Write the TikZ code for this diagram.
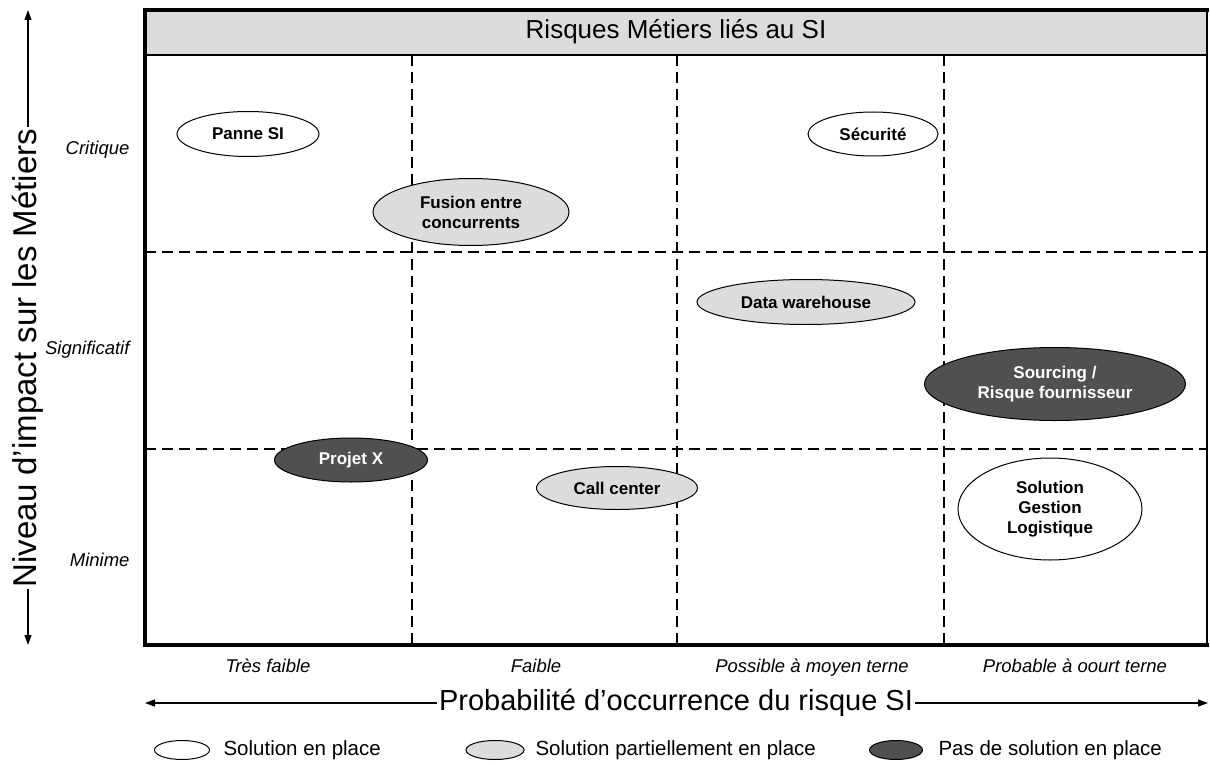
\documentclass[tikz,border=0pt]{standalone}
\usepackage{fontspec}
\setmainfont{Liberation Sans}
\usetikzlibrary{shapes.geometric,arrows.meta}
\definecolor{lightg}{HTML}{DCDCDC}
\definecolor{darkg}{HTML}{505050}
\begin{document}
\begin{tikzpicture}[x=1pt,y=-1pt,
  risk/.style={ellipse, draw=black, line width=1pt, inner sep=0pt, align=center,
     font=\fontsize{17}{20}\selectfont\bfseries},
  sol/.style={risk, fill=white},
  part/.style={risk, fill=lightg},
  none/.style={risk, fill=darkg, text=white},
  griddash/.style={line width=2pt, dash pattern=on 11pt off 6pt},
  rowlab/.style={anchor=east, font=\fontsize{18.5}{22}\selectfont\itshape},
  collab/.style={anchor=base, font=\fontsize{18.5}{22}\selectfont\itshape},
  axislab/.style={fill=white, inner sep=2pt, font=\fontsize{29}{34}\selectfont},
  vaxislab/.style={fill=white, inner sep=2pt, font=\fontsize{33}{38}\selectfont},
  axisarrow/.style={line width=1.2pt, -{Triangle[length=10pt,width=7pt]}},
  legell/.style={ellipse, draw=black, line width=1pt, inner sep=0pt, minimum width=55pt, minimum height=19pt},
  legtxt/.style={anchor=west, font=\fontsize{20.5}{24}\selectfont}
]
\useasboundingbox (0,0) rectangle (1210,765);
% title bar
\fill[lightg] (145,10) rectangle (1207,55);
\node[font=\fontsize{26}{30}\selectfont] (title) at (676,32) {Risques Métiers liés au SI};
% grid
\draw[griddash] (412,55) -- (412,645);
\draw[griddash] (677,55) -- (677,645);
\draw[griddash] (944,55) -- (944,645);
\draw[griddash] (145,252) -- (1207,252);
\draw[griddash] (145,449) -- (1207,449);
% frame
\draw[line width=1.2pt] (145,55) -- (1207,55);
\draw[line width=1.5pt] (1207,10) -- (1207,645);
\draw[line width=4pt, line cap=rect] (145,645) -- (145,10) -- (1207,10);
\draw[line width=4pt, line cap=rect] (145,645) -- (1207,645);
% row labels
\node[rowlab] (crit) at (133,150) {Critique};
\node[rowlab] (sign) at (133,350) {Significatif};
\node[rowlab] (mini) at (133,560) {Minime};
% column labels
\node[collab] (c1) at (268,672) {Très faible};
\node[collab] (c2) at (536,672) {Faible};
\node[collab] (c3) at (812,672) {Possible à moyen terne};
\node[collab] (c4) at (1075,672) {Probable à oourt terne};
% risks
\node[sol, minimum width=142pt, minimum height=45pt] (panne) at (248,134) {Panne SI};
\node[sol, minimum width=130pt, minimum height=44pt] (secu) at (873,134) {Sécurité};
\node[part, minimum width=196pt, minimum height=67pt] (fusion) at (471,212) {Fusion entre\\concurrents};
\node[part, minimum width=218pt, minimum height=45pt] (dw) at (806,302) {Data warehouse};
\node[none, minimum width=261pt, minimum height=73pt] (sourcing) at (1055,384) {Sourcing /\\Risque fournisseur};
\node[none, minimum width=153pt, minimum height=44pt] (projx) at (351,460) {Projet X};
\node[part, minimum width=161pt, minimum height=43pt] (call) at (617,488) {Call center};
\node[sol, minimum width=184pt, minimum height=102pt] (sgl) at (1050,509) {Solution\\Gestion\\Logistique};
% vertical axis
\coordinate (vtop) at (28,10);
\coordinate (vbot) at (28,645);
\node[vaxislab, rotate=90] (vlab) at (28,358) {Niveau d’impact sur les Métiers};
\draw[axisarrow] (vlab.east) -- (vtop);
\draw[axisarrow] (vlab.west) -- (vbot);
% horizontal axis
\coordinate (hleft) at (145,703);
\coordinate (hright) at (1208,703);
\node[axislab] (hlab) at (676,703) {Probabilité d’occurrence du risque SI};
\draw[axisarrow] (hlab.west) -- (hleft);
\draw[axisarrow] (hlab.east) -- (hright);
% legend
\node[legell, fill=white] (l1) at (182,750) {};
\node[legtxt] (t1) at (220,750) {Solution en place};
\node[legell, fill=lightg, minimum width=58pt] (l2) at (495,750) {};
\node[legtxt] (t2) at (532,750) {Solution partiellement en place};
\node[legell, fill=darkg, minimum width=53pt] (l3) at (896,750) {};
\node[legtxt] (t3) at (935,750) {Pas de solution en place};
\end{tikzpicture}
\end{document}
